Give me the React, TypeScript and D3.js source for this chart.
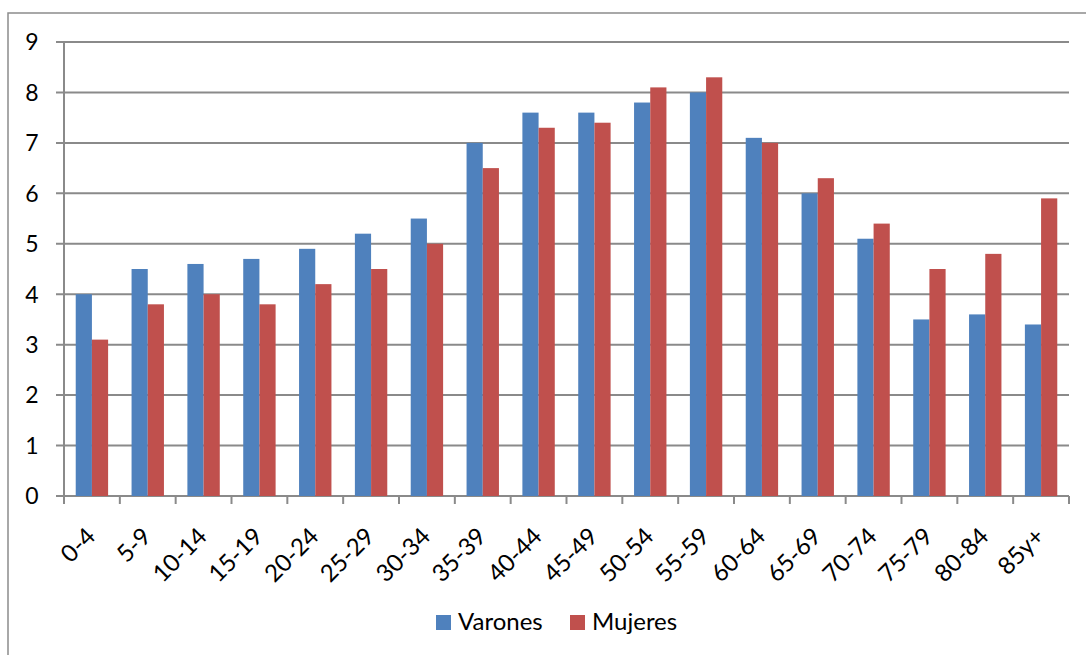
import React from "react";
import * as d3 from "d3";

const categories = ["0-4","5-9","10-14","15-19","20-24","25-29","30-34","35-39","40-44","45-49","50-54","55-59","60-64","65-69","70-74","75-79","80-84","85y+"];
const varones = [4.0,4.5,4.6,4.7,4.9,5.2,5.5,7.0,7.6,7.6,7.8,8.0,7.1,6.0,5.1,3.5,3.6,3.4];
const mujeres = [3.1,3.8,4.0,3.8,4.2,4.5,5.0,6.5,7.3,7.4,8.1,8.3,7.0,6.3,5.4,4.5,4.8,5.9];
const yTicks = [0,1,2,3,4,5,6,7,8,9];
const seriesNames = ["Varones","Mujeres"];
const colors = ["#4F81BD","#C0504D"];

export default function App() {
  const W = 1086, H = 655;
  const left = 64, right = 1069, top = 42, bottom = 496;
  const x = d3.scaleBand<string>().domain(categories).range([left, right]).paddingInner(0).paddingOuter(0);
  const y = d3.scaleLinear().domain([0, 9]).range([bottom, top]);
  const bw = x.bandwidth();
  const barW = bw * 0.29;
  const font = "Lato, 'Open Sans', sans-serif";
  const grid = "#8a8a8a";
  return (
    <svg width={W} height={H} style={{ position: "absolute", left: 0, top: 0 }}>
      <rect x={0} y={0} width={W} height={H} fill="#fff" />
      <rect x={8} y={13} width={W + 10} height={H + 10} fill="none" stroke="#8c8c8c" strokeWidth={1.5} />
      {yTicks.map(t => (
        <g key={t}>
          <line x1={56} x2={right} y1={y(t)} y2={y(t)} stroke={grid} strokeWidth={2} />
          <text x={32} y={y(t)} dy="0.36em" textAnchor="middle" fontSize={23} fontFamily={font} fill="#000">{t}</text>
        </g>
      ))}
      <line x1={left} x2={left} y1={top} y2={bottom} stroke={grid} strokeWidth={2} />
      {categories.map((c, i) => {
        const cx = x(c)! + bw / 2;
        return (
          <g key={c}>
            <rect x={cx - barW} y={y(varones[i])} width={barW} height={bottom - y(varones[i])} fill={colors[0]} />
            <rect x={cx} y={y(mujeres[i])} width={barW} height={bottom - y(mujeres[i])} fill={colors[1]} />
          </g>
        );
      })}
      {d3.range(categories.length + 1).map(i => {
        const tx = left + i * bw;
        return <line key={i} x1={tx} x2={tx} y1={bottom} y2={bottom + 8} stroke={grid} strokeWidth={2} />;
      })}
      {categories.map(c => {
        const cx = x(c)! + bw / 2 - 7;
        const ty = bottom + 30;
        return (
          <text key={c} x={cx} y={ty} textAnchor="end" dy="0.7em" fontSize={24} fontFamily={font} fill="#000"
            transform={`rotate(-45, ${cx}, ${ty})`}>{c}</text>
        );
      })}
      <g>
        <rect x={436} y={615} width={15} height={15} fill={colors[0]} />
        <text x={458} y={630} fontSize={24} fontFamily={font} fill="#000">{seriesNames[0]}</text>
        <rect x={570} y={615} width={15} height={15} fill={colors[1]} />
        <text x={592} y={630} fontSize={24} fontFamily={font} fill="#000">{seriesNames[1]}</text>
      </g>
    </svg>
  );
}
